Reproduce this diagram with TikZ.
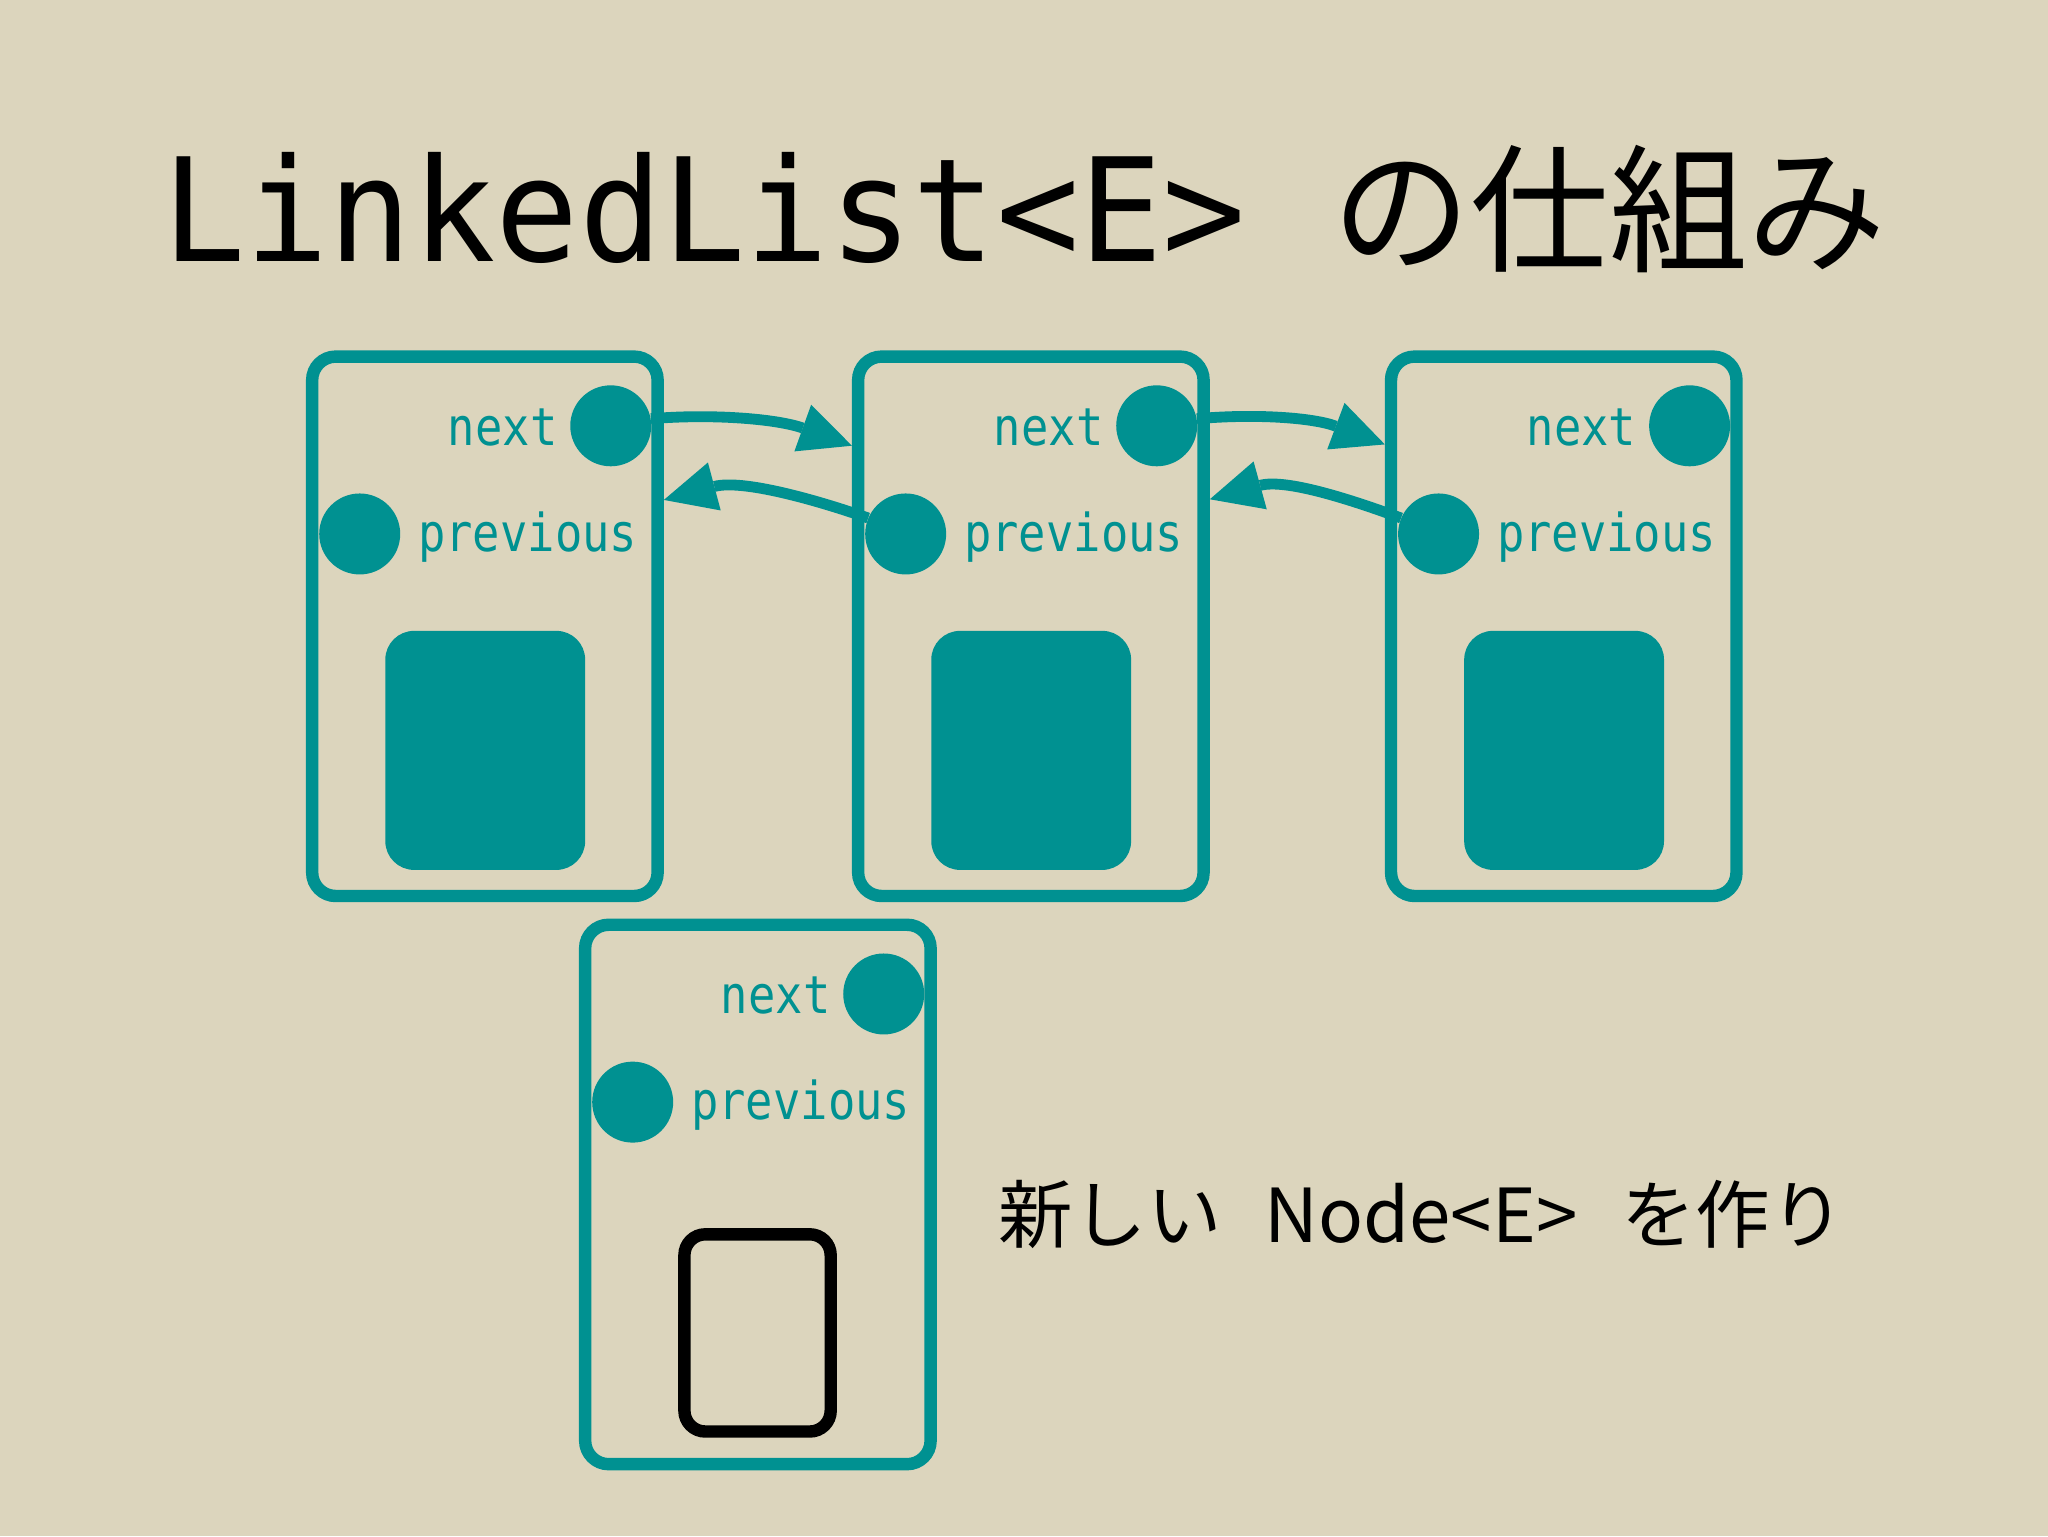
\documentclass[tikz,border=0pt]{standalone}
\usepackage{fontspec}
\usepackage{graphicx}
\newfontfamily\monofont{DejaVu Sans Mono}
\newfontfamily\jpfont{Noto Sans CJK JP}
\usetikzlibrary{arrows.meta,calc}
\definecolor{bgbeige}{RGB}{220,213,189}
\definecolor{tealc}{RGB}{0,145,145}
\tikzset{
  cell/.style={draw=tealc, line width=9.5pt, rounded corners=18pt, minimum width=264.5pt, minimum height=413pt, inner sep=0pt},
  ptr/.style={circle, fill=tealc, minimum size=62pt, inner sep=0pt},
  datafill/.style={fill=tealc, rounded corners=22pt, minimum width=153pt, minimum height=183pt, inner sep=0pt},
  dataempty/.style={draw=black, line width=9.5pt, rounded corners=16pt, minimum width=112pt, minimum height=151pt, inner sep=0pt},
  lbl/.style={text=tealc, font=\monofont\fontsize{40}{40}\selectfont, inner sep=0pt},
  link/.style={draw=tealc, line width=8.3pt, -{Triangle[length=40pt,width=38pt,line width=0pt]}}
}
\begin{document}
\begin{tikzpicture}[x=1pt,y=-1pt]
\fill[bgbeige] (0,0) rectangle (1568,1176);
\useasboundingbox (0,0) rectangle (1568,1176);

\node[anchor=base west, inner sep=0pt] (title) at (124,200.3)
  {\monofont\fontsize{110}{110}\selectfont\scalebox{0.964}[1]{LinkedList<E>}\hspace{66pt}{\jpfont\fontsize{106}{106}\selectfont の仕組み}};

\foreach \k/\dx/\dy in {1/0/0,2/418/0,3/826/0,4/209/435} {
  \node[cell] (b\k) at ({371.25+\dx},{479.5+\dy}) {};
  \node[ptr] (n\k) at ({467.6+\dx},{326+\dy}) {};
  \node[ptr] (p\k) at ({275.4+\dx},{408.8+\dy}) {};
  \node[lbl, anchor=base east] (tn\k) at ({427+\dx},{341+\dy}) {\scalebox{0.87}[1]{next}};
  \node[lbl, anchor=base west] (tp\k) at ({320+\dx},{422+\dy}) {\scalebox{0.87}[1]{previous}};
}
\foreach \k/\dx in {1/0,2/418,3/826} {
  \node[datafill] (d\k) at ({371.5+\dx},574.5) {};
}
\node[dataempty] (d4) at (580,1020.5) {};

\draw[link] (n1.10) .. controls +(47,-4) and +(-57,-20.5) .. ($(b2.north west)+(0,73)$);
\draw[link] (n2.10) .. controls +(45,-4) and +(-55,-20.5) .. ($(b3.north west)+(0,72)$);
\draw[link] (p2.157) .. controls +(-40,-14) and +(60,-16) .. ($(b1.north east)+(0,114.5)$);
\draw[link] (p3.157) .. controls +(-38,-14) and +(58,-16) .. ($(b2.north east)+(0,114)$);

\node[anchor=base west, inner sep=0pt] (caption) at (764,951.5)
  {\jpfont\fontsize{57}{57}\selectfont 新しい\hspace{33pt}Node<E>\hspace{33.5pt}を作り};
\end{tikzpicture}
\end{document}
